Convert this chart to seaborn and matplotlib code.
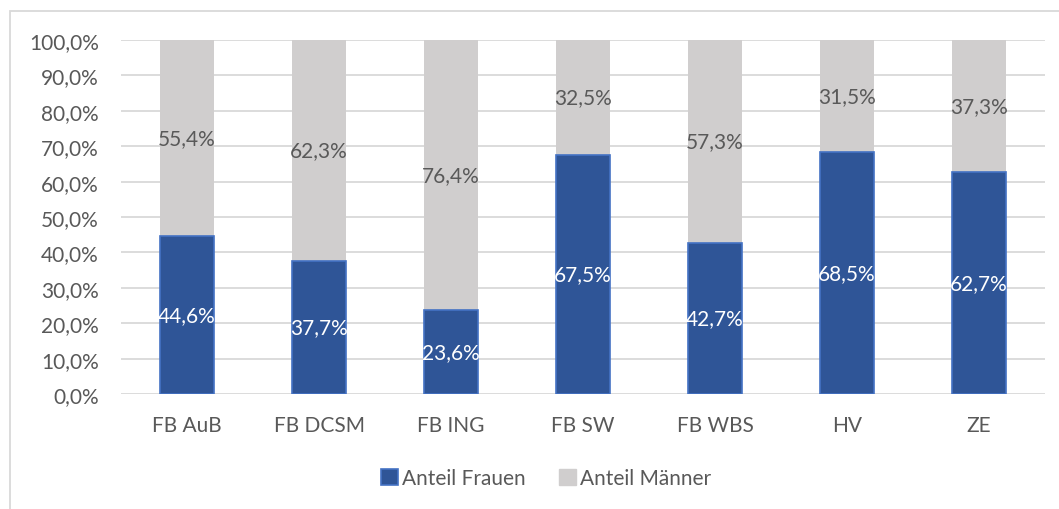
import matplotlib
matplotlib.use('Agg')
import matplotlib.pyplot as plt
import numpy as np
import pandas as pd
import seaborn as sns
from matplotlib.patches import Patch, Rectangle
from matplotlib.ticker import FuncFormatter

categories = ["FB AuB", "FB DCSM", "FB ING", "FB SW", "FB WBS", "HV", "ZE"]
anteil_frauen = [44.6, 37.7, 23.6, 67.5, 42.7, 68.5, 62.7]
anteil_maenner = [55.4, 62.3, 76.4, 32.5, 57.3, 31.5, 37.3]
series_names = ["Anteil Frauen", "Anteil Männer"]

BLUE = "#2F5597"
BLUE_EDGE = "#4472C4"
GREY = "#D0CECE"
TEXT = "#595959"
GRID = "#D9D9D9"

df = pd.DataFrame({
    "Bereich": categories,
    "Frauen": anteil_frauen,
    "Maenner": anteil_maenner,
})
df["Gesamt"] = df["Frauen"] + df["Maenner"]

sns.set_theme(style="white")
plt.rcParams['font.family'] = ['Lato', 'DejaVu Sans']

FS = 15


def de_pct(v):
    return f"{v:.1f}%".replace(".", ",")


fig = plt.figure(figsize=(10.59, 5.10), dpi=100)
ax = fig.add_axes([121 / 1059, 1 - 395 / 510, (1045 - 121) / 1059, (395 - 41) / 510])

# grey = full stack, blue drawn over it
sns.barplot(data=df, x="Bereich", y="Gesamt", color=GREY, width=0.41,
            saturation=1, ax=ax, linewidth=0, zorder=2)
sns.barplot(data=df, x="Bereich", y="Frauen", color=BLUE, width=0.41,
            saturation=1, ax=ax, edgecolor=BLUE_EDGE, linewidth=1.2, zorder=3)

for i, (f, m) in enumerate(zip(df["Frauen"], df["Maenner"])):
    ax.text(i, f / 2, de_pct(f), ha="center", va="center", color="white",
            fontsize=FS, zorder=4)
    ax.text(i, f + m / 2, de_pct(m), ha="center", va="center", color=TEXT,
            fontsize=FS, zorder=4)

ax.set_ylim(0, 100)
ax.set_xlim(-0.5, len(categories) - 0.5)
ax.set_yticks(np.arange(0, 101, 10))
ax.yaxis.set_major_formatter(FuncFormatter(lambda v, _: de_pct(v)))
ax.grid(axis="y", color=GRID, linewidth=1.3, zorder=0)
ax.set_axisbelow(True)
for s in ax.spines.values():
    s.set_visible(False)
ax.tick_params(axis="y", length=0, pad=16, labelsize=FS, labelcolor=TEXT)
ax.tick_params(axis="x", length=0, pad=15, labelsize=FS, labelcolor=TEXT)
ax.set_xlabel("")
ax.set_ylabel("")

handles = [Patch(facecolor=BLUE, edgecolor=BLUE_EDGE, linewidth=1.2),
           Patch(facecolor=GREY, edgecolor=GREY)]
fig.legend(handles, series_names, loc="center", bbox_to_anchor=(546 / 1059, 1 - 479 / 510),
           ncol=2, frameon=False, fontsize=FS, handlelength=0.8, handleheight=0.8,
           handletextpad=0.2, columnspacing=1.6, labelcolor=TEXT)

# outer chart frame
fig.patches.append(Rectangle((10 / 1059, -0.05), 1.1, 1 - 12 / 510 + 0.05,
                             transform=fig.transFigure, fill=False,
                             edgecolor=GRID, linewidth=1.3))

fig.savefig("out.png", dpi=100)
